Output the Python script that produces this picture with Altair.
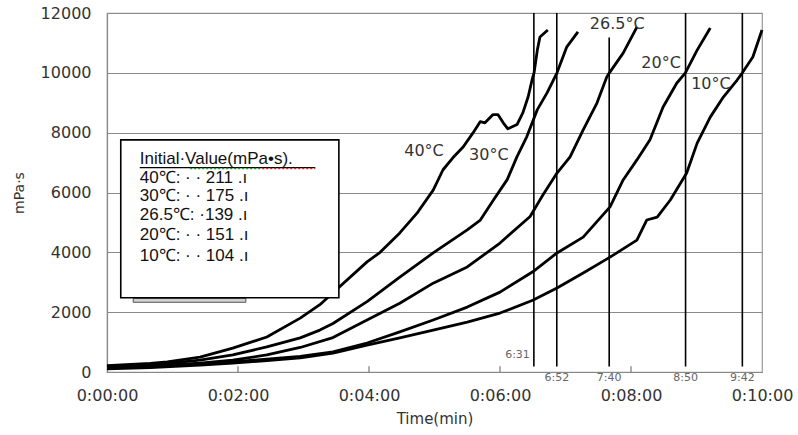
import altair as alt
import pandas as pd

# ---- data (time in minutes, viscosity in mPa·s) ----
series_names = ["40°C", "30°C", "26.5°C", "20°C", "10°C"]

t40 = [0, 0.66, 0.92, 1.42, 1.92, 2.44, 2.95, 3.25, 3.45, 3.97, 4.17, 4.47, 4.73, 4.98, 5.13, 5.28,
       5.44, 5.59, 5.70, 5.77, 5.89, 5.97, 6.05, 6.12, 6.26, 6.35, 6.43, 6.49, 6.52, 6.57, 6.61, 6.73]
v40 = [211, 290, 340, 500, 800, 1170, 1800, 2250, 2650, 3680, 4000, 4650, 5300, 6080, 6760, 7160,
       7530, 8000, 8370, 8330, 8600, 8600, 8330, 8130, 8270, 8670, 9200, 9770, 10000, 10760, 11200, 11430]

t30 = [0, 0.66, 1.42, 1.92, 2.44, 2.95, 3.25, 3.45, 3.97, 4.47, 4.98, 5.50, 5.70, 5.90, 6.11, 6.26,
       6.41, 6.57, 6.72, 6.87, 7.02, 7.19]
v30 = [175, 230, 400, 570, 840, 1140, 1400, 1620, 2350, 3170, 3980, 4750, 5080, 5750, 6430, 7200,
       7870, 8770, 9340, 10000, 10870, 11370]

t265 = [0, 0.66, 1.42, 1.92, 2.44, 2.95, 3.45, 3.97, 4.47, 4.98, 5.50, 6.00, 6.46, 6.65, 6.87, 7.07,
        7.27, 7.48, 7.63, 7.67, 7.88, 8.09]
v265 = [139, 200, 300, 400, 570, 820, 1150, 1740, 2300, 2970, 3510, 4310, 5200, 5900, 6650, 7190,
        8090, 8990, 9860, 10000, 10660, 11530]

t20 = [0, 0.66, 1.42, 1.92, 2.44, 2.95, 3.45, 3.97, 4.47, 4.98, 5.50, 6.00, 6.50, 6.87, 7.27, 7.68,
       7.88, 8.09, 8.29, 8.49, 8.70, 8.83, 9.01, 9.21]
v20 = [151, 180, 260, 340, 430, 520, 670, 970, 1340, 1740, 2170, 2670, 3350, 3980, 4510, 5520,
       6420, 7090, 7760, 8860, 9660, 10000, 10760, 11500]

t10 = [0, 0.66, 1.42, 1.92, 2.44, 2.95, 3.45, 3.97, 4.47, 4.98, 5.50, 6.00, 6.50, 6.87, 7.27, 7.68,
       8.09, 8.24, 8.40, 8.60, 8.85, 9.01, 9.21, 9.41, 9.62, 9.70, 9.86, 10.0]
v10 = [104, 150, 230, 300, 380, 470, 630, 900, 1140, 1400, 1670, 1970, 2400, 2810, 3310, 3840,
       4410, 5080, 5180, 5750, 6650, 7650, 8520, 9190, 9760, 10000, 10530, 11430]

# curve labels
label_text = ["40°C", "30°C", "26.5°C", "20°C", "10°C"]
label_t = [4.84, 5.83, 7.79, 8.46, 9.22]
label_v = [7390, 7250, 11630, 10330, 9630]

# times at which 10000 mPa·s is reached
mark_label = ["6:31", "6:52", "7:40", "8:50", "9:42"]
mark_t = [6.517, 6.867, 7.667, 8.833, 9.70]
mark_top = [12000, 12000, 11180, 12000, 12000]

# legend box text
legend_title = "Initial·Value(mPa•s)."
legend_lines = ["40℃: · · 211 .ı", "30℃: · · 175 .ı", "26.5℃: ·139 .ı", "20℃: · · 151 .ı", "10℃: · · 104 .ı"]

x_ticks = [0, 2, 4, 6, 8, 10]
y_ticks = [0, 2000, 4000, 6000, 8000, 10000, 12000]

# ---- tables ----
rows = []
for name, ts, vs in zip(series_names, [t40, t30, t265, t20, t10], [v40, v30, v265, v20, v10]):
    for i, (t, v) in enumerate(zip(ts, vs)):
        rows.append({"series": name, "t": t, "v": v, "order": i})
df = pd.DataFrame(rows)

lab_df = pd.DataFrame({"text": label_text, "t": label_t, "v": label_v})
mk_df = pd.DataFrame({"label": mark_label, "t": mark_t, "top": mark_top, "bottom": [180] * 5, "lv": [-190] * 5})
tick_df = pd.DataFrame({"t": x_ticks[1:-1], "v0": [0] * 4, "v1": [190] * 4})

FONT = "DejaVu Sans"
xs = alt.Scale(domain=[0, 10], nice=False)
ys = alt.Scale(domain=[0, 12000], nice=False)

x_axis = alt.Axis(values=x_ticks, labelExpr="'0:' + (datum.value < 10 ? '0' : '') + datum.value + ':00'",
                  title="Time(min)", grid=False, ticks=False, domainColor="#888", domainWidth=1.2,
                  labelFont=FONT, labelFontSize=16, labelColor="#333", labelPadding=15,
                  titleFont=FONT, titleFontSize=15, titleFontWeight="normal", titleColor="#333",
                  titlePadding=8, labelFlush=False)
y_axis = alt.Axis(values=y_ticks, format="d", title="mPa·s", grid=True, gridColor="#8a8a8a", gridWidth=1.2,
                  ticks=False, domainColor="#888", domainWidth=1.2,
                  labelFont=FONT, labelFontSize=16, labelColor="#333", labelPadding=16,
                  titleFont=FONT, titleFontSize=14, titleFontWeight="normal", titleColor="#333",
                  titlePadding=14)

lines = alt.Chart(df).mark_line(color="black", strokeWidth=2.8, strokeJoin="round").encode(
    x=alt.X("t:Q", scale=xs, axis=x_axis),
    y=alt.Y("v:Q", scale=ys, axis=y_axis),
    detail="series:N",
    order="order:Q",
)

inner_ticks = alt.Chart(tick_df).mark_rule(color="#777", strokeWidth=1.2).encode(
    x=alt.X("t:Q", scale=xs), y=alt.Y("v0:Q", scale=ys), y2="v1:Q")

vlines = alt.Chart(mk_df).mark_rule(color="black", strokeWidth=1.6).encode(
    x=alt.X("t:Q", scale=xs), y=alt.Y("bottom:Q", scale=ys), y2="top:Q")

mk_first = alt.Chart(mk_df.iloc[:1]).mark_text(align="right", baseline="middle", dx=-4, dy=-12,
                                               font=FONT, fontSize=11, color="#666").encode(
    x=alt.X("t:Q", scale=xs), y=alt.Y("bottom:Q", scale=ys), text="label:N")
mk_rest = alt.Chart(mk_df.iloc[1:]).mark_text(align="center", baseline="middle",
                                              font=FONT, fontSize=11, color="#666").encode(
    x=alt.X("t:Q", scale=xs), y=alt.Y("lv:Q", scale=ys), text="label:N")

curve_labels = alt.Chart(lab_df).mark_text(align="center", baseline="middle", font=FONT,
                                           fontSize=16, color="#333").encode(
    x=alt.X("t:Q", scale=xs), y=alt.Y("v:Q", scale=ys), text="text:N")

# legend box (annotation, in data units)
box_df = pd.DataFrame({"x0": [0.21], "x1": [3.54], "y0": [2480], "y1": [7760]})
shadow_df = pd.DataFrame({"x0": [0.40], "x1": [2.12], "y0": [2330], "y1": [2460]})
box = alt.Chart(box_df).mark_rect(fill="white", stroke="black", strokeWidth=1.6).encode(
    x=alt.X("x0:Q", scale=xs), x2="x1:Q", y=alt.Y("y0:Q", scale=ys), y2="y1:Q")
shadow = alt.Chart(shadow_df).mark_rect(fill="#d0d0d0", stroke="#555", strokeWidth=1).encode(
    x=alt.X("x0:Q", scale=xs), x2="x1:Q", y=alt.Y("y0:Q", scale=ys), y2="y1:Q")

leg_df = pd.DataFrame({"text": [legend_title] + legend_lines,
                       "t": [0.50] * 6,
                       "v": [7130, 6480, 5880, 5240, 4570, 3880]})
leg_text = alt.Chart(leg_df).mark_text(align="left", baseline="middle", font="Liberation Sans",
                                       fontSize=17, color="#111").encode(
    x=alt.X("t:Q", scale=xs), y=alt.Y("v:Q", scale=ys), text="text:N")

ul_df = pd.DataFrame({"x0": [0.50, 1.27, 2.37], "x1": [3.18, 2.37, 3.18], "v": [6830, 6800, 6800]})
underline = alt.Chart(ul_df.iloc[:1]).mark_rule(color="black", strokeWidth=1.4).encode(
    x=alt.X("x0:Q", scale=xs), x2="x1:Q", y=alt.Y("v:Q", scale=ys))
squig_g = alt.Chart(ul_df.iloc[1:2]).mark_rule(color="#1a9a1a", strokeWidth=1.6, strokeDash=[2, 2]).encode(
    x=alt.X("x0:Q", scale=xs), x2="x1:Q", y=alt.Y("v:Q", scale=ys))
squig_r = alt.Chart(ul_df.iloc[2:3]).mark_rule(color="#e02020", strokeWidth=1.6, strokeDash=[2, 2]).encode(
    x=alt.X("x0:Q", scale=xs), x2="x1:Q", y=alt.Y("v:Q", scale=ys))

chart = alt.layer(
    inner_ticks, lines, vlines, mk_first, mk_rest, curve_labels,
    shadow, box, leg_text, underline, squig_g, squig_r,
).properties(
    width=655, height=359,
    autosize="none",
    padding={"left": 107, "top": 13, "right": 36, "bottom": 63},
    background="white",
).configure_view(stroke="#999", strokeWidth=1.2)

chart.save("out.html", embed_options={"renderer": "svg", "actions": False})
